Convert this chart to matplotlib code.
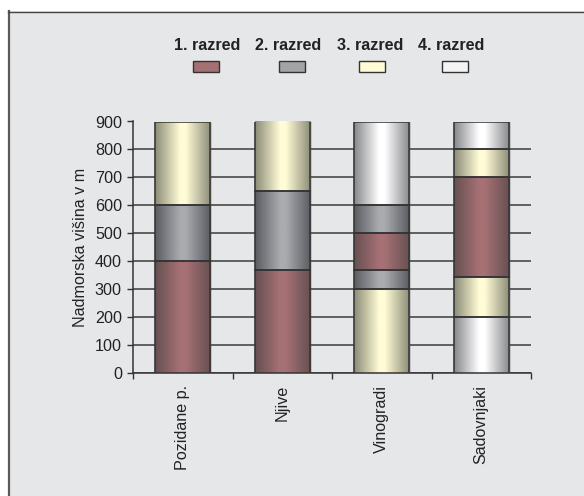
import numpy as np
import matplotlib
matplotlib.use("Agg")
import matplotlib.pyplot as plt
from matplotlib.colors import LinearSegmentedColormap
from matplotlib.patches import Rectangle
from matplotlib.lines import Line2D

plt.rcParams["font.family"] = ["Liberation Sans", "DejaVu Sans"]

# Land-use categories along the x axis
categories = ["Pozidane p.", "Njive", "Vinogradi", "Sadovnjaki"]
class_names = ["1. razred", "2. razred", "3. razred", "4. razred"]

# Altitude zones per category, bottom to top: class of each zone and its upper bound (m)
pozidane_classes = [1, 2, 3]
pozidane_tops = [400, 600, 900]
njive_classes = [1, 2, 3]
njive_tops = [370, 650, 900]
vinogradi_classes = [3, 2, 1, 2, 4]
vinogradi_tops = [300, 370, 500, 600, 900]
sadovnjaki_classes = [4, 3, 1, 3, 4]
sadovnjaki_tops = [200, 345, 700, 800, 900]

zone_classes = [pozidane_classes, njive_classes, vinogradi_classes, sadovnjaki_classes]
zone_tops = [pozidane_tops, njive_tops, vinogradi_tops, sadovnjaki_tops]

y_ticks = [0, 100, 200, 300, 400, 500, 600, 700, 800, 900]

# Cylinder shading: (edge colour, centre colour) for each class
shades = {
    1: ("#665051", "#a67175"),
    2: ("#5b5c61", "#aaabaf"),
    3: ("#8b8b77", "#fffcd6"),
    4: ("#86878b", "#ffffff"),
}
flat = {1: "#a47073", 2: "#a3a4a8", 3: "#fffbd4", 4: "#f4f4f4"}

FS = 11.6
W, H = 584, 496
fig = plt.figure(figsize=(W / 100, H / 100), dpi=100)
fig.patch.set_facecolor("white")

bg = "#e6e7e9"
# Panel background with its left and top border
fig.add_artist(Rectangle((8 / W, 0), 1, 1 - 11 / H, transform=fig.transFigure,
                         facecolor=bg, edgecolor="none", zorder=0))
fig.add_artist(Line2D([8.5 / W, 8.5 / W], [0, 1 - 11 / H], transform=fig.transFigure,
                      color="#5a5a5a", lw=1.6, zorder=1))
fig.add_artist(Line2D([8 / W, 1], [1 - 11.5 / H, 1 - 11.5 / H], transform=fig.transFigure,
                      color="#444444", lw=1.0, zorder=1))

ax = fig.add_axes([133 / W, 1 - 373 / H, (531 - 133) / W, (373 - 121.5) / H])
ax.set_facecolor("none")

x = np.arange(len(categories))
bar_w = 0.555

grad = np.linspace(0, 1, 256).reshape(1, -1)
for i, (cls_list, tops) in enumerate(zip(zone_classes, zone_tops)):
    bottom = 0
    for cls, top in zip(cls_list, tops):
        height = top - bottom
        bar = ax.bar(x[i], height, bottom=bottom, width=bar_w, color=flat[cls],
                     edgecolor="#333333", linewidth=1.0, zorder=3)[0]
        edge_c, mid_c = shades[cls]
        cmap = LinearSegmentedColormap.from_list(
            f"c{cls}", [(0, edge_c), (0.45, mid_c), (0.55, mid_c), (1, edge_c)])
        bx, by = bar.get_x(), bar.get_y()
        im = ax.imshow(grad, cmap=cmap, aspect="auto", zorder=3.5,
                       extent=[bx, bx + bar.get_width(), by, by + bar.get_height()])
        im.set_clip_path(bar)
        ax.bar(x[i], height, bottom=bottom, width=bar_w, color="none",
               edgecolor="#333333", linewidth=1.1, zorder=4)
        bottom = top

ax.set_xlim(-0.5, len(categories) - 0.5)
ax.set_ylim(0, 900)

ax.set_yticks(y_ticks)
ax.yaxis.grid(True, color="#3c3c3c", linewidth=1.1, zorder=1)
ax.set_axisbelow(True)
ax.tick_params(axis="y", direction="out", length=4, width=1.0, color="#333333",
               labelsize=FS, pad=4, labelcolor="#222222")

# Tick marks at category boundaries, labels at category centres
ax.set_xticks(np.arange(-0.5, len(categories)), minor=False)
ax.set_xticklabels([])
ax.set_xticks(x, minor=True)
ax.set_xticklabels(categories, minor=True, rotation=90, va="top", ha="center")
ax.tick_params(axis="x", which="major", direction="out", length=4.5, width=1.0,
               color="#333333")
ax.tick_params(axis="x", which="minor", length=0, pad=8.5, labelsize=FS,
               labelcolor="#222222")

for side in ("top", "right"):
    ax.spines[side].set_visible(False)
for side in ("left", "bottom"):
    ax.spines[side].set_color("#333333")
    ax.spines[side].set_linewidth(1.1)

ax.set_ylabel("Nadmorska višina v m", fontsize=FS, color="#222222", labelpad=5)

# Legend: class names above their swatches
text_cx = [207, 288, 370, 451]
box_cx = [206, 292, 372, 455]
for k, name in enumerate(class_names):
    fig.text(text_cx[k] / W, 1 - 45 / H, name, ha="center", va="center",
             fontsize=FS, fontweight="bold", color="#222222")
    fig.add_artist(Rectangle(((box_cx[k] - 13) / W, 1 - 72 / H), 26 / W, 11 / H,
                             transform=fig.transFigure, facecolor=flat[k + 1],
                             edgecolor="#333333", linewidth=1.0, zorder=2))

fig.savefig("out.png", dpi=100)
